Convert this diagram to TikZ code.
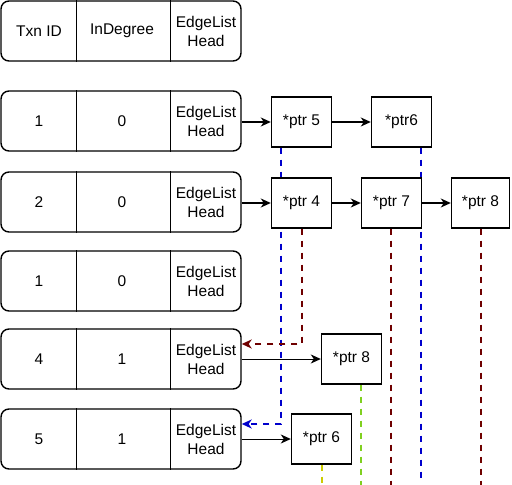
\documentclass[tikz,border=0pt]{standalone}
\usepackage{fontspec}
\setmainfont{Liberation Sans}
\usetikzlibrary{arrows.meta,calc}
\pgfdeclarelayer{background}
\pgfsetlayers{background,main}
\definecolor{dblue}{HTML}{0000CC}
\definecolor{dred}{HTML}{6F0000}
\definecolor{lgreen}{HTML}{80D020}
\definecolor{dyellow}{HTML}{CCCC00}
\tikzset{
  rowbox/.style={draw=black, line width=1.4pt, rounded corners=8pt, minimum width=240pt, minimum height=60pt, inner sep=0pt, fill=white},
  cell/.style={inner sep=0pt, align=center, font=\fontsize{15.5}{19}\selectfont},
  ptrbox/.style={draw=black, line width=1.4pt, fill=white, minimum width=60pt, minimum height=50pt, inner sep=0pt, font=\fontsize{15.5}{19}\selectfont},
  link/.style={line width=1.4pt, -{Stealth[length=10pt,width=9pt,inset=3pt]}},
  thinlink/.style={line width=1pt, -{Stealth[length=10pt,width=9pt,inset=3pt]}},
  dline/.style={line width=2pt, dash pattern=on 6pt off 6pt},
  darrow/.style={dline, -{Stealth[length=10pt,width=9pt,inset=3pt]}},
  divider/.style={line width=1.4pt}
}
\begin{document}
\begin{tikzpicture}[x=1pt,y=-1pt]
\useasboundingbox (0,0) rectangle (512,485);
% rows
\foreach \n/\y/\a/\b in {r1/31/Txn ID/InDegree, r2/121/1/0, r3/202/2/0, r4/281/1/0, r5/359/4/1, r6/439/5/1}{
  \node[rowbox] (\n) at (121,\y) {};
  \draw[divider] ($(\n.north west)+(76,0)$) -- ($(\n.south west)+(76,0)$);
  \draw[divider] ($(\n.north west)+(170,0)$) -- ($(\n.south west)+(170,0)$);
  \node[cell] (\n a) at (39,\y) {\a};
  \node[cell] (\n b) at (122,\y) {\b};
  \node[cell] (\n c) at (206,\y) {EdgeList\\Head};
}
% pointer boxes
\node[ptrbox] (p5) at (301.5,122) {*ptr 5};
\node[ptrbox] (p6a) at (401.5,122) {*ptr6};
\node[ptrbox] (p4) at (301.5,203) {*ptr 4};
\node[ptrbox] (p7) at (391.5,203) {*ptr 7};
\node[ptrbox, minimum width=58pt] (p8a) at (480.5,203) {*ptr 8};
\node[ptrbox] (p8b) at (351.5,359) {*ptr 8};
\node[ptrbox] (p6b) at (321.5,439) {*ptr 6};
% solid links
\draw[link] (r2.east |- p5.west) -- (p5.west);
\draw[link] (p5.east) -- (p6a.west);
\draw[link] (r3.east |- p4.west) -- (p4.west);
\draw[link] (p4.east) -- (p7.west);
\draw[link] (p7.east) -- (p8a.west);
\draw[thinlink] (r5.east) -- (p8b.west);
\draw[thinlink] (r6.east) -- (p6b.west);
% dashed links
\coordinate (e1) at (421,480);
\coordinate (e2) at (391,485);
\coordinate (e3) at (481,485);
\coordinate (e4) at (361,485);
\coordinate (e5) at (322,485);
\begin{pgfonlayer}{background}
\draw[darrow, dblue] (p5.south -| 281,0) |- ($(r6.east)+(0,-15)$);
\draw[dline, dblue] (p6a.south -| e1) -- (e1);
\draw[darrow, dred] (p4.south -| 302,0) |- ($(r5.east)+(0,-15)$);
\draw[dline, dred] (p7.south -| e2) -- (e2);
\draw[dline, dred] (p8a.south -| e3) -- (e3);
\draw[dline, lgreen] (p8b.south -| e4) -- (e4);
\draw[dline, dyellow] (p6b.south -| e5) -- (e5);
\end{pgfonlayer}
\end{tikzpicture}
\end{document}
